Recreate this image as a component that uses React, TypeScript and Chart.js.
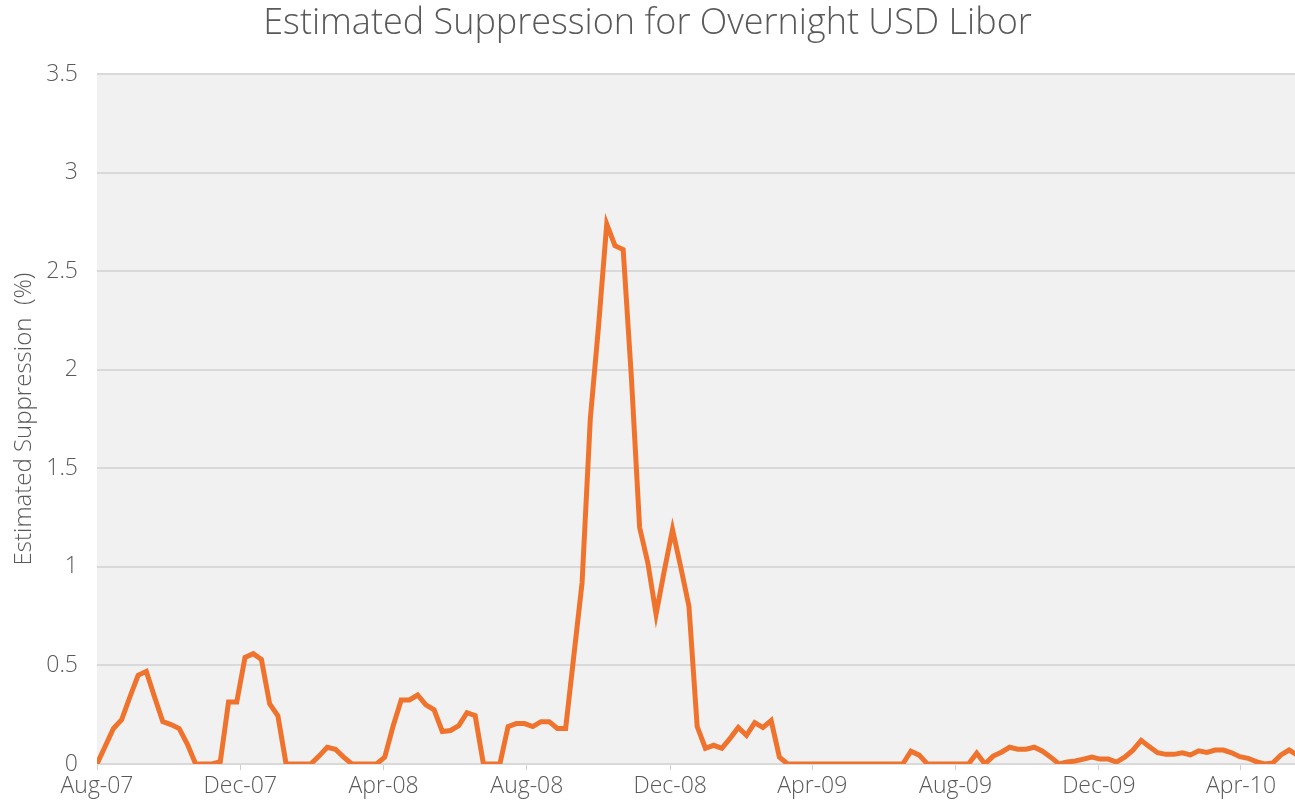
import React, { useEffect, useRef } from "react";
import { Chart, registerables } from "chart.js";

Chart.register(...registerables);

const TITLE = "Estimated Suppression for Overnight USD Libor";
const Y_TITLE = "Estimated Suppression  (%)";
const SERIES_LABEL = "Estimated Suppression";

// Weekly observations starting on the first date below
const startDate = "2007-08-01";
const stepDays = 7;

const suppression: number[] = [
  0, 0.09, 0.18, 0.225, 0.34, 0.45, 0.47, 0.34, 0.215, 0.2,
  0.18, 0.1, 0, 0, 0, 0.012, 0.315, 0.315, 0.54, 0.56,
  0.53, 0.305, 0.245, 0, 0, 0, 0, 0.04, 0.085, 0.075,
  0.035, 0, 0, 0, 0, 0.035, 0.19, 0.325, 0.325, 0.35,
  0.3, 0.275, 0.165, 0.17, 0.195, 0.26, 0.245, 0, 0, 0,
  0.19, 0.205, 0.205, 0.19, 0.215, 0.215, 0.18, 0.18, 0.55, 0.92,
  1.75, 2.22, 2.74, 2.63, 2.61, 1.96, 1.2, 1.02, 0.76, 0.98,
  1.19, 1.0, 0.8, 0.19, 0.08, 0.095, 0.08, 0.13, 0.185, 0.145,
  0.21, 0.185, 0.22, 0.035, 0, 0, 0, 0, 0, 0,
  0, 0, 0, 0, 0, 0, 0, 0, 0, 0.065,
  0.045, 0, 0, 0, 0, 0, 0, 0.055, 0, 0.04,
  0.06, 0.085, 0.075, 0.075, 0.085, 0.065, 0.035, 0, 0.01, 0.015,
  0.025, 0.035, 0.025, 0.025, 0.01, 0.035, 0.07, 0.12, 0.088, 0.057,
  0.049, 0.049, 0.057, 0.046, 0.067, 0.059, 0.071, 0.071, 0.057, 0.037,
  0.029, 0.012, 0, 0.005, 0.046, 0.071, 0.045,
];

const tickDates: string[] = [
  "2007-08-01", "2007-12-01", "2008-04-01", "2008-08-01", "2008-12-01",
  "2009-04-01", "2009-08-01", "2009-12-01", "2010-04-01",
];
const tickLabels: string[] = [
  "Aug-07", "Dec-07", "Apr-08", "Aug-08", "Dec-08",
  "Apr-09", "Aug-09", "Dec-09", "Apr-10",
];
const xMaxDate = "2010-05-17";

const yMin = 0;
const yMax = 3.5;
const yStep = 0.5;

const DAY = 86400000;
const dayOffset = (d: string) =>
  Math.round((Date.parse(d + "T00:00:00Z") - Date.parse(startDate + "T00:00:00Z")) / DAY);

const TEXT = "#595959";
const FONT = "'Open Sans'";

const plotBg = {
  id: "plotBg",
  beforeDraw(chart: any) {
    const { ctx, chartArea } = chart;
    ctx.save();
    ctx.fillStyle = "#f1f1f1";
    ctx.fillRect(chartArea.left, chartArea.top, chartArea.right - chartArea.left, chartArea.bottom - chartArea.top);
    ctx.restore();
  },
};

export default function App() {
  const ref = useRef<HTMLCanvasElement | null>(null);

  useEffect(() => {
    document.body.style.margin = "0";
    if (!ref.current) return;
    const tickDays = tickDates.map(dayOffset);
    const points = suppression.map((v, i) => ({ x: i * stepDays, y: v }));
    const chart = new Chart(ref.current, {
      type: "line",
      data: {
        datasets: [
          {
            label: SERIES_LABEL,
            data: points,
            borderColor: "#f0732d",
            backgroundColor: "#f0732d",
            borderWidth: 5,
            pointRadius: 0,
            tension: 0,
            fill: false,
          },
        ],
      },
      options: {
        animation: false,
        responsive: false,
        layout: { padding: 0 },
        plugins: {
          legend: { display: false },
          tooltip: { enabled: false },
          title: {
            display: true,
            text: TITLE,
            color: TEXT,
            font: { family: FONT, size: 36, weight: "300" as any, lineHeight: 1.2 },
            padding: { top: 2, bottom: 29 },
          },
        },
        scales: {
          x: {
            type: "linear",
            min: 0,
            max: dayOffset(xMaxDate),
            afterBuildTicks: (scale: any) => {
              scale.ticks = tickDays.map((v) => ({ value: v }));
            },
            afterFit: (scale: any) => {
              scale.height = 40;
            },
            ticks: {
              autoSkip: false,
              maxRotation: 0,
              padding: 3,
              color: TEXT,
              font: { family: FONT, size: 23, weight: "300" as any },
              callback: (_v: any, i: number) => tickLabels[i],
            },
            grid: {
              drawOnChartArea: false,
              drawTicks: true,
              tickLength: 6,
              color: "#d0d0d0",
              lineWidth: 1,
            },
            border: { display: false },
          },
          y: {
            min: yMin,
            max: yMax,
            afterFit: (scale: any) => {
              scale.width = 97;
            },
            ticks: {
              stepSize: yStep,
              padding: 19,
              color: TEXT,
              font: { family: FONT, size: 23, weight: "300" as any },
              callback: (v: any) => String(Number(v)),
            },
            grid: {
              color: "#d9d9d9",
              lineWidth: 2,
              drawTicks: false,
            },
            border: { display: false },
            title: {
              display: true,
              text: Y_TITLE,
              color: TEXT,
              font: { family: FONT, size: 24, weight: "300" as any },
              padding: { top: 10, bottom: 0 },
            },
          },
        },
      },
      plugins: [plotBg],
    });
    return () => chart.destroy();
  }, []);

  return (
    <div style={{ width: 1295, height: 804 }}>
      <canvas ref={ref} width={1295} height={804} style={{ display: "block" }} />
    </div>
  );
}
